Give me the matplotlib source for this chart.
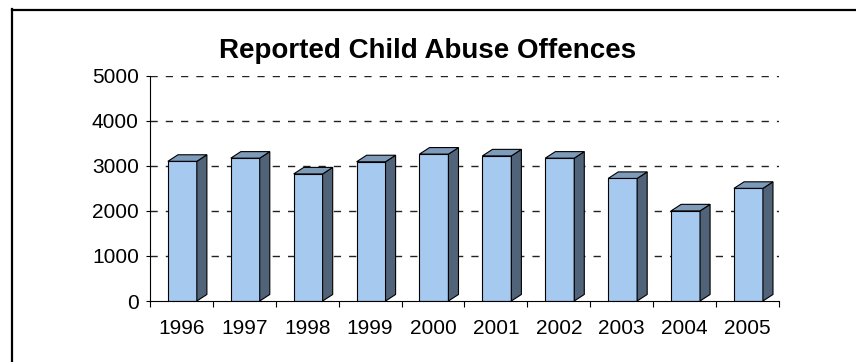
import numpy as np
import matplotlib
matplotlib.use("Agg")
import matplotlib.pyplot as plt
from matplotlib.patches import Polygon
from matplotlib.lines import Line2D

# Reported offences per year
years = ["1996", "1997", "1998", "1999", "2000",
         "2001", "2002", "2003", "2004", "2005"]
offences = [3100, 3170, 2820, 3090, 3260, 3220, 3170, 2720, 2000, 2500]
y_ticks = [0, 1000, 2000, 3000, 4000, 5000]

plt.rcParams["font.family"] = ["Liberation Sans", "DejaVu Sans"]

FRONT = "#a6c9ef"
SIDE = "#516379"
TOP = "#7f9bba"


def draw_column(ax, x, h, width, dx, dy):
    """Front face plus a shaded side and top to fake a 3-D column."""
    x0, x1 = x - width / 2, x + width / 2
    ax.bar(x, h, width=width, color=FRONT, edgecolor="black",
           linewidth=0.8, zorder=3)
    side = Polygon([(x1, 0), (x1 + dx, dy), (x1 + dx, h + dy), (x1, h)],
                   closed=True, facecolor=SIDE, edgecolor="black",
                   linewidth=0.8, zorder=3)
    top = Polygon([(x0, h), (x0 + dx, h + dy), (x1 + dx, h + dy), (x1, h)],
                  closed=True, facecolor=TOP, edgecolor="black",
                  linewidth=0.8, zorder=3)
    ax.add_patch(side)
    ax.add_patch(top)


fig = plt.figure(figsize=(8.56, 3.62), dpi=100)
ax = fig.add_axes([0.1752, 0.1685, 0.9100 - 0.1752, 0.6224])

x = np.arange(len(years))
for xi, h in zip(x, offences):
    # depth: ~10 px right, ~6.5 px up
    draw_column(ax, xi + 0.015, h, 0.46, 0.16, 145)

ax.set_xlim(-0.5, len(years) - 0.5)
ax.set_ylim(0, 5000)

# dashed gridlines
for v in y_ticks[1:]:
    ax.axhline(v, color="#222222", linewidth=1.0,
               dashes=(5.2, 5.8), zorder=1)

ax.set_yticks(y_ticks)
ax.set_xticks(x)
ax.set_xticklabels(years)
ax.set_xticks(np.arange(-0.5, len(years)), minor=True)
ax.tick_params(axis="x", which="major", length=0, pad=13, labelsize=15)
ax.tick_params(axis="x", which="minor", length=4, width=0.8,
               direction="out", color="black")
ax.tick_params(axis="y", length=3, width=0.8, direction="out",
               pad=5, labelsize=15)

for s in ["top", "right"]:
    ax.spines[s].set_visible(False)
for s in ["left", "bottom"]:
    ax.spines[s].set_linewidth(0.8)
    ax.spines[s].set_zorder(4)

fig.text(0.499, 0.84, "Reported Child Abuse Offences", ha="center",
         va="baseline", fontsize=20, fontweight="bold")

# outer frame (top and left edges)
fig.add_artist(Line2D([0.0135, 1.0], [0.9724, 0.9724],
                      transform=fig.transFigure, color="black", linewidth=1.6))
fig.add_artist(Line2D([0.0140, 0.0140], [0.0, 0.9740],
                      transform=fig.transFigure, color="black", linewidth=1.6))

fig.savefig("out.png", dpi=100)
